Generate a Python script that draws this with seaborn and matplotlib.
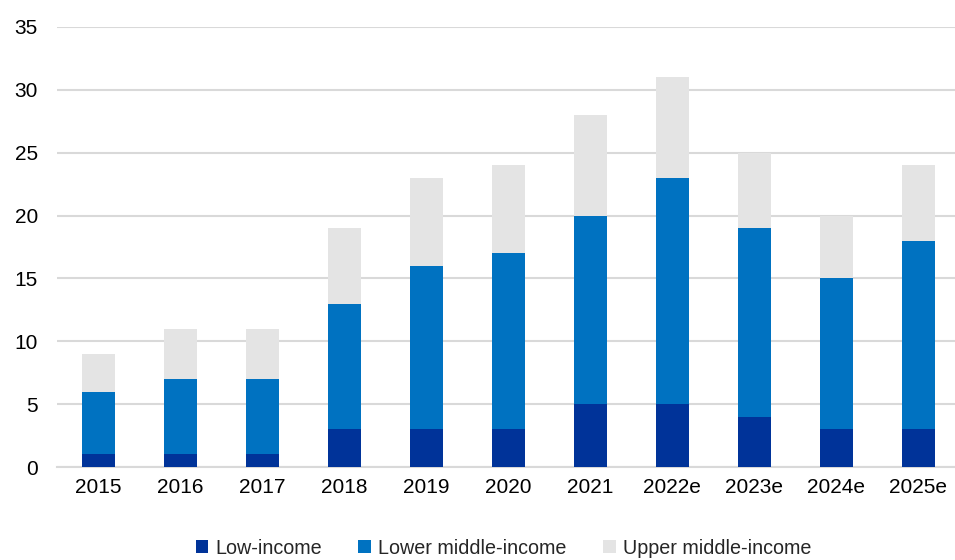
import numpy as np
import pandas as pd
import matplotlib
matplotlib.use("Agg")
import matplotlib.pyplot as plt
import seaborn as sns

# ---- data ----
years = ["2015", "2016", "2017", "2018", "2019", "2020", "2021",
         "2022e", "2023e", "2024e", "2025e"]
low_income = [1, 1, 1, 3, 3, 3, 5, 5, 4, 3, 3]
lower_middle = [5, 6, 6, 10, 13, 14, 15, 18, 15, 12, 15]
upper_middle = [3, 4, 4, 6, 7, 7, 8, 8, 6, 5, 6]

series_names = ["Low-income", "Lower middle-income", "Upper middle-income"]
colors = ["#003399", "#0072C1", "#E4E4E4"]

sns.set_style("white")
plt.rcParams["font.family"] = ["Liberation Sans", "DejaVu Sans"]

df = pd.DataFrame({
    "year": years,
    "low": low_income,
    "lower": lower_middle,
    "upper": upper_middle,
})
df["cum_low"] = df["low"]
df["cum_lower"] = df["low"] + df["lower"]
df["cum_upper"] = df["cum_lower"] + df["upper"]

fig = plt.figure(figsize=(9.55, 5.6), dpi=100)
ax = fig.add_axes([0.06, 0.166, 0.94, 0.786])

# stacked bars: draw totals first, then overlay smaller stacks
for col, color, name in zip(["cum_upper", "cum_lower", "cum_low"],
                            colors[::-1], series_names[::-1]):
    sns.barplot(data=df, x="year", y=col, color=color, width=0.4,
                saturation=1, ax=ax, label=name, zorder=3, linewidth=0)

ax.set_ylim(0, 35)
ax.set_yticks(range(0, 36, 5))
ax.set_xlim(-0.5, 10.45)
ax.yaxis.grid(True, color="#D9D9D9", linewidth=1.5, zorder=0)
ax.set_axisbelow(True)
for s in ["top", "right", "left"]:
    ax.spines[s].set_visible(False)
ax.spines["bottom"].set_color("#D9D9D9")
ax.spines["bottom"].set_linewidth(1.5)
ax.set_xlabel("")
ax.set_ylabel("")
ax.tick_params(axis="both", length=0, labelsize=15, colors="black")
ax.tick_params(axis="x", pad=8)
ax.tick_params(axis="y", pad=14)

handles, labels = ax.get_legend_handles_labels()
if ax.get_legend() is not None:
    ax.get_legend().remove()
order = [labels.index(n) for n in series_names]
fig.legend([handles[i] for i in order], [labels[i] for i in order],
           loc="center", bbox_to_anchor=(0.527, 0.021), ncol=3,
           frameon=False, fontsize=14.2, handlelength=0.65, handleheight=0.65,
           handletextpad=0.35, columnspacing=1.85)

fig.savefig("out.png", dpi=100)
